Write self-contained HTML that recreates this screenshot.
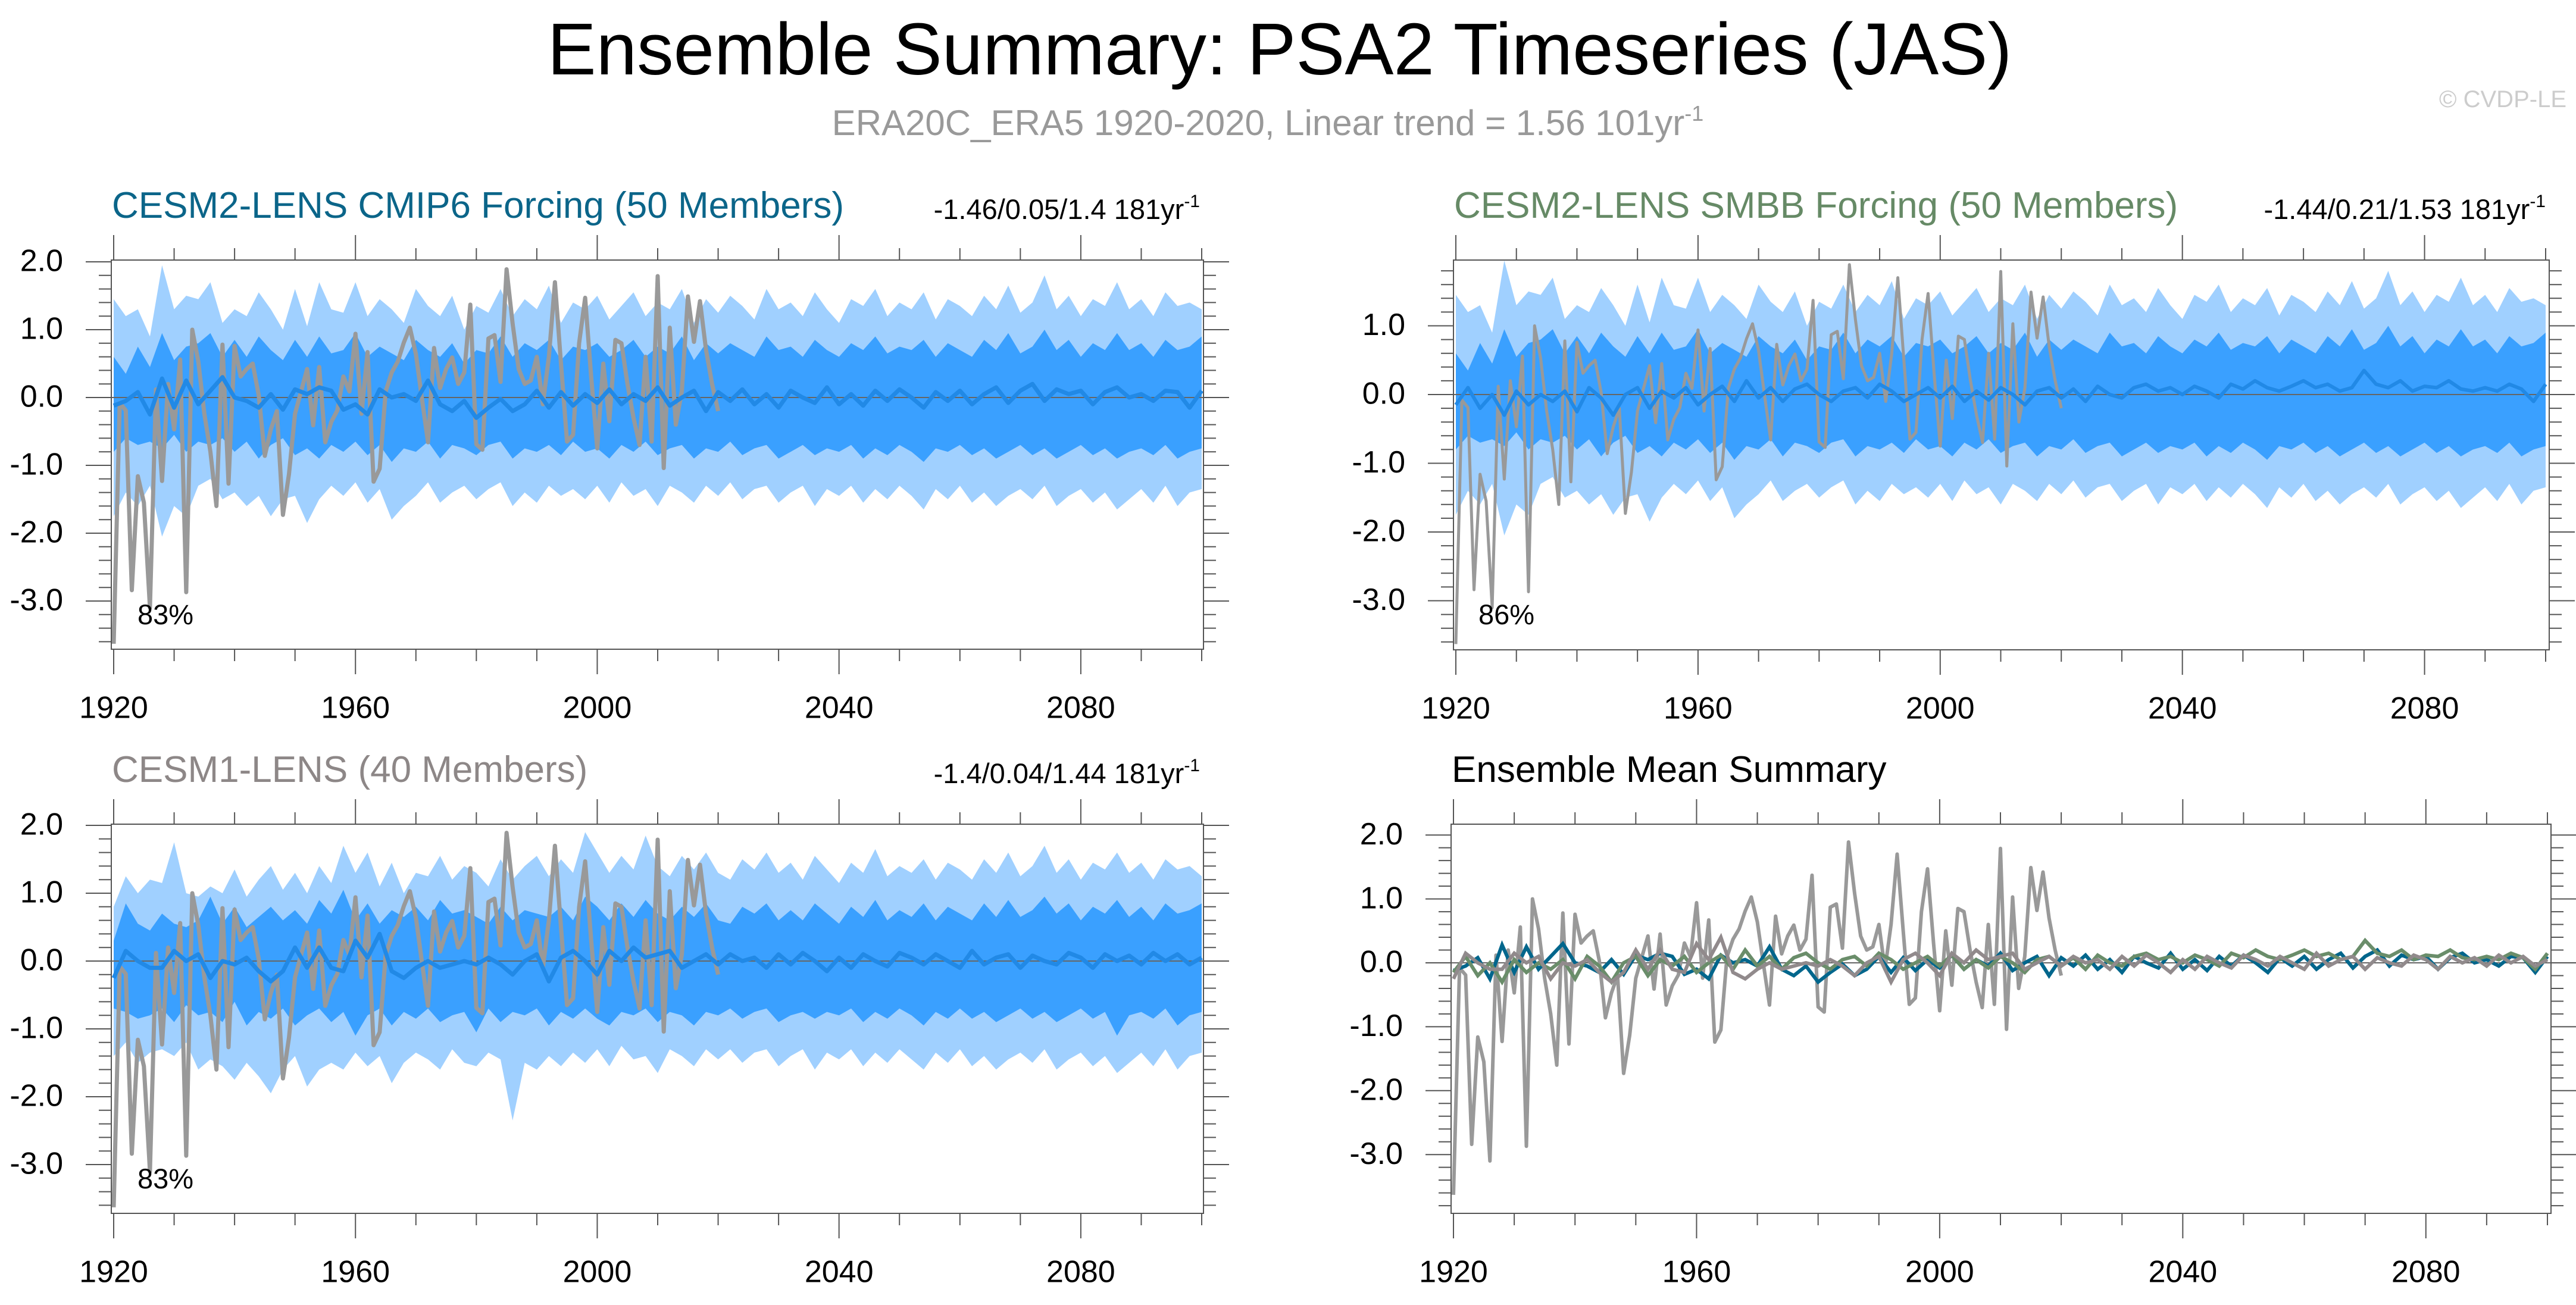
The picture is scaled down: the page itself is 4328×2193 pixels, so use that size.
<!DOCTYPE html>
<html><head><meta charset="utf-8"><style>
html,body{margin:0;padding:0;background:#fff;}
svg{display:block;font-family:"Liberation Sans",Arial,sans-serif;}
</style></head><body>
<svg id="chart" width="4328" height="2193" viewBox="0 0 4328 2193" xmlns="http://www.w3.org/2000/svg">
<rect width="4328" height="2193" fill="#fff"/>
<text x="2150" y="125" font-size="123" text-anchor="middle" fill="#000">Ensemble Summary: PSA2 Timeseries (JAS)</text>
<text x="2130" y="227" font-size="60" text-anchor="middle" fill="#999">ERA20C_ERA5 1920-2020, Linear trend = 1.56 101yr<tspan dy="-24" font-size="36">-1</tspan></text>
<text x="4312" y="180" font-size="40" text-anchor="end" fill="#ccc">© CVDP-LE</text>
<g id="panels"></g>
</svg>
<script>
// ---- data ----
const obsStartYear = 1920;
const obsValues = [-3.63,-0.08,-0.19,-2.84,-1.16,-1.55,-3.1,0.12,-1.23,0.2,
-0.47,0.56,-2.87,1.0,0.53,-0.24,-0.8,-1.6,0.78,-1.27,
0.76,0.31,0.42,0.5,0.03,-0.86,-0.47,-0.2,-1.73,-1.13,
-0.24,0.09,0.42,-0.41,0.45,-0.66,-0.36,-0.19,0.31,0.09,
0.94,-0.24,0.67,-1.24,-1.05,0.09,0.37,0.53,0.81,1.03,
0.64,-0.02,-0.66,0.73,0.14,0.42,0.59,0.2,0.37,1.37,
-0.69,-0.77,0.87,0.92,0.23,1.89,1.09,0.42,0.2,0.25,
0.6,-0.1,0.6,1.7,0.5,-0.65,-0.55,0.8,1.47,0.3,
-0.75,0.5,-0.35,0.85,0.8,0.2,-0.3,-0.7,0.6,-0.65,
1.79,-1.04,1.03,-0.4,0.1,1.49,0.82,1.42,0.7,0.2,-0.2];
const bandStartYear = 1920, bandStep = 2;
const p1LightHi = [1.45,1.2,1.3,0.9,1.95,1.3,1.5,1.45,1.7,1.1,1.3,1.2,1.55,1.3,1.0,1.6,1.05,1.7,1.3,1.25,1.7,1.2,1.45,1.3,1.1,1.6,1.35,1.2,1.5,1.0,1.35,1.25,1.6,1.2,1.45,1.3,1.65,1.1,1.4,1.3,1.5,1.15,1.35,1.55,1.2,1.4,1.3,1.6,1.1,1.45,1.25,1.5,1.35,1.15,1.6,1.3,1.4,1.2,1.55,1.3,1.1,1.45,1.35,1.6,1.2,1.4,1.3,1.55,1.15,1.45,1.35,1.2,1.5,1.3,1.65,1.25,1.4,1.8,1.3,1.5,1.2,1.45,1.35,1.7,1.3,1.45,1.2,1.55,1.35,1.4,1.3];
const p1DarkHi = [0.6,0.35,0.75,0.45,0.95,0.55,0.75,0.8,0.95,0.6,0.85,0.6,0.9,0.7,0.55,0.85,0.6,0.9,0.65,0.7,0.95,0.6,0.75,0.65,0.55,0.85,0.7,0.6,0.8,0.5,0.7,0.65,0.9,0.6,0.8,0.7,0.85,0.55,0.75,0.7,0.8,0.6,0.7,0.85,0.6,0.75,0.65,0.9,0.55,0.8,0.65,0.8,0.7,0.6,0.9,0.7,0.75,0.6,0.85,0.7,0.6,0.8,0.7,0.9,0.65,0.75,0.7,0.85,0.6,0.8,0.7,0.6,0.85,0.7,0.95,0.65,0.75,1.0,0.7,0.85,0.6,0.8,0.7,0.95,0.7,0.8,0.6,0.85,0.7,0.75,0.9];
const p1DarkLo = [-0.8,-0.6,-0.7,-0.65,-0.75,-0.55,-0.8,-0.65,-0.7,-0.6,-0.8,-0.65,-0.9,-0.7,-0.6,-0.85,-0.75,-0.9,-0.7,-0.8,-0.65,-0.85,-0.7,-0.95,-0.75,-0.8,-0.65,-0.9,-0.7,-0.75,-0.85,-0.7,-0.65,-0.9,-0.75,-0.8,-0.7,-0.85,-0.65,-0.8,-0.75,-0.9,-0.7,-0.8,-0.65,-0.85,-0.75,-0.7,-0.9,-0.75,-0.8,-0.65,-0.85,-0.75,-0.7,-0.9,-0.8,-0.7,-0.85,-0.75,-0.8,-0.7,-0.9,-0.75,-0.85,-0.7,-0.8,-0.95,-0.75,-0.8,-0.7,-0.85,-0.75,-0.9,-0.8,-0.7,-0.85,-0.75,-0.9,-0.8,-0.7,-0.85,-0.75,-0.9,-0.8,-0.75,-0.85,-0.7,-0.9,-0.8,-0.75];
const p1LightLo = [-1.75,-1.4,-1.6,-1.3,-2.05,-1.6,-1.75,-1.3,-1.2,-1.5,-1.4,-1.6,-1.45,-1.75,-1.5,-1.45,-1.85,-1.5,-1.3,-1.45,-1.25,-1.55,-1.35,-1.8,-1.6,-1.45,-1.25,-1.55,-1.4,-1.3,-1.5,-1.35,-1.25,-1.6,-1.4,-1.55,-1.3,-1.45,-1.35,-1.5,-1.3,-1.55,-1.25,-1.45,-1.35,-1.6,-1.3,-1.4,-1.55,-1.3,-1.45,-1.25,-1.5,-1.35,-1.3,-1.55,-1.4,-1.3,-1.6,-1.35,-1.45,-1.3,-1.55,-1.35,-1.5,-1.3,-1.45,-1.65,-1.35,-1.5,-1.3,-1.55,-1.4,-1.6,-1.45,-1.35,-1.5,-1.3,-1.6,-1.45,-1.35,-1.55,-1.4,-1.65,-1.5,-1.35,-1.55,-1.3,-1.6,-1.4,-1.35];
const p1Mean = [-0.12,-0.05,0.08,-0.25,0.28,-0.15,0.25,-0.1,0.1,0.3,0.0,-0.05,-0.15,0.05,-0.18,0.12,0.05,0.15,0.1,-0.18,-0.1,-0.25,0.12,0.0,0.05,-0.05,0.25,-0.1,-0.2,-0.05,-0.3,-0.15,-0.02,-0.2,-0.1,0.1,-0.15,0.08,-0.12,0.05,-0.08,0.12,-0.1,0.05,-0.05,0.15,-0.12,0.0,0.1,-0.2,0.08,-0.05,0.12,-0.1,0.05,-0.15,0.1,0.0,-0.08,0.15,-0.1,0.05,-0.12,0.1,-0.05,0.12,0.0,-0.15,0.08,-0.05,0.1,-0.1,0.05,0.15,-0.08,0.1,0.2,-0.05,0.12,0.05,0.1,-0.1,0.08,0.15,0.0,0.05,-0.05,0.1,0.08,-0.15,0.1];
const p2Mean = [-0.15,0.1,-0.2,0.0,-0.3,0.05,-0.15,0.0,-0.1,0.05,-0.25,0.1,-0.05,-0.3,0.0,0.1,-0.2,0.05,-0.05,0.1,-0.15,0.0,0.12,-0.1,0.2,-0.05,0.1,-0.1,0.08,0.15,0.0,-0.1,0.05,0.1,-0.05,0.15,0.05,-0.1,0.0,0.1,-0.05,0.12,-0.1,0.05,-0.08,0.1,0.0,-0.15,0.05,0.1,-0.05,0.08,-0.1,0.12,0.0,-0.05,0.1,0.15,0.05,0.1,0.0,0.12,0.05,-0.05,0.15,0.08,0.2,0.1,0.05,0.12,0.2,0.1,0.15,0.05,0.1,0.35,0.15,0.1,0.2,0.05,0.12,0.1,0.2,0.08,0.05,0.1,0.05,0.15,0.08,-0.1,0.15];
const p3LightHi = [0.8,1.25,1.0,1.2,1.15,1.75,1.0,0.95,1.1,1.0,1.35,0.95,1.2,1.4,1.05,1.3,1.0,1.4,1.15,1.7,1.3,1.6,1.1,1.45,1.0,1.3,1.25,1.55,1.2,1.4,1.3,1.1,1.5,1.2,1.4,1.55,1.25,1.5,1.3,1.9,1.6,1.3,1.55,1.35,1.85,1.4,1.25,1.55,1.35,1.6,1.3,1.2,1.5,1.35,1.6,1.3,1.45,1.2,1.55,1.35,1.15,1.45,1.3,1.65,1.25,1.4,1.3,1.5,1.2,1.45,1.35,1.2,1.5,1.3,1.6,1.25,1.4,1.7,1.3,1.5,1.2,1.45,1.35,1.6,1.3,1.45,1.2,1.5,1.35,1.4,1.25];
const p3DarkHi = [0.3,0.85,0.55,0.45,0.7,0.55,0.5,0.6,0.95,0.55,0.8,0.5,0.65,0.8,0.6,0.75,0.55,0.9,0.7,1.05,0.6,0.85,0.55,0.75,0.65,0.8,0.6,0.9,0.7,0.75,0.65,0.55,0.8,0.6,0.75,0.7,0.65,0.8,0.6,0.95,0.8,0.6,0.85,0.65,0.9,0.7,0.6,0.8,0.65,0.85,0.6,0.55,0.8,0.7,0.85,0.6,0.75,0.6,0.85,0.7,0.55,0.8,0.65,0.9,0.6,0.75,0.65,0.85,0.6,0.8,0.7,0.6,0.85,0.65,0.9,0.65,0.75,0.95,0.7,0.85,0.6,0.8,0.7,0.9,0.65,0.8,0.6,0.85,0.7,0.75,0.85];
const p3DarkLo = [-0.7,-0.75,-0.85,-0.8,-0.7,-0.9,-0.65,-0.8,-0.75,-0.9,-0.6,-0.95,-0.75,-0.85,-0.7,-0.95,-0.8,-0.7,-0.9,-0.75,-1.1,-0.8,-0.7,-0.95,-0.75,-0.85,-0.7,-0.9,-0.8,-0.75,-1.05,-0.7,-0.9,-0.75,-0.8,-0.7,-0.95,-0.75,-0.85,-0.7,-0.85,-0.95,-0.75,-0.8,-0.7,-0.9,-0.75,-0.8,-0.95,-0.75,-0.8,-0.7,-0.85,-0.75,-0.7,-0.9,-0.8,-0.75,-0.85,-0.75,-0.8,-0.7,-0.9,-0.75,-0.85,-0.7,-0.8,-0.95,-0.75,-0.85,-0.7,-0.85,-0.75,-0.9,-0.8,-0.7,-0.85,-0.75,-0.9,-0.8,-0.7,-0.85,-0.75,-1.1,-0.8,-0.75,-0.85,-0.7,-0.95,-0.8,-0.75];
const p3LightLo = [-1.4,-1.2,-1.5,-1.35,-1.3,-1.4,-1.2,-1.6,-1.45,-1.55,-1.75,-1.5,-1.7,-1.95,-1.6,-1.4,-1.85,-1.6,-1.5,-1.6,-1.35,-1.55,-1.4,-1.8,-1.5,-1.35,-1.45,-1.6,-1.3,-1.5,-1.55,-1.35,-1.45,-2.35,-1.5,-1.6,-1.4,-1.55,-1.35,-1.5,-1.3,-1.55,-1.25,-1.45,-1.4,-1.65,-1.3,-1.4,-1.55,-1.3,-1.45,-1.3,-1.5,-1.35,-1.3,-1.55,-1.4,-1.3,-1.6,-1.35,-1.45,-1.3,-1.55,-1.35,-1.5,-1.3,-1.45,-1.6,-1.35,-1.5,-1.3,-1.55,-1.4,-1.6,-1.45,-1.35,-1.5,-1.3,-1.6,-1.45,-1.35,-1.55,-1.4,-1.65,-1.5,-1.35,-1.55,-1.3,-1.6,-1.4,-1.35];
const p3Mean = [-0.25,0.15,0.0,-0.1,-0.1,0.15,0.0,0.1,-0.25,0.0,-0.05,0.05,-0.15,-0.3,-0.15,0.2,-0.1,0.2,-0.1,-0.15,0.3,0.05,0.4,-0.15,-0.25,-0.1,0.0,-0.1,-0.05,0.0,-0.05,0.05,-0.05,-0.2,0.0,0.1,-0.3,0.05,0.15,0.0,-0.2,0.15,0.0,0.2,0.05,0.1,0.15,-0.1,0.0,0.1,-0.05,0.1,0.0,0.05,-0.1,0.1,-0.05,0.12,0.0,-0.15,0.05,-0.1,0.1,0.0,-0.08,0.12,0.05,-0.05,0.1,0.0,-0.1,0.15,-0.05,0.05,0.1,-0.1,0.08,0.0,-0.05,0.12,0.05,-0.1,0.1,0.0,0.08,-0.05,0.12,0.0,0.1,-0.05,0.05];
const xTickLabels = ["1920","1960","2000","2040","2080"];
const yTickLabels = ["2.0","1.0","0.0","-1.0","-2.0","-3.0"];

// ---- drawing ----
const NS = "http://www.w3.org/2000/svg";
const root = document.getElementById("panels");
function mk(tag, attrs, parent){
  const e = document.createElementNS(NS, tag);
  for (const k in attrs) e.setAttribute(k, attrs[k]);
  (parent||root).appendChild(e);
  return e;
}
const panels = [
  {id:"p1", bx0:187, bx1:2022, xa:191, xb:2019, top:437, bot:1091, zero:668, unit:114, yMin:-3.7, yMax:2.03,
   title:"CESM2-LENS CMIP6 Forcing (50 Members)", tcolor:"#0b6589", stats:"-1.46/0.05/1.4 181yr", pct:"83%", pctX:231,
   bands:[p1LightHi,p1DarkHi,p1DarkLo,p1LightLo], mean:p1Mean, obsW:7, meanW:7},
  {id:"p2", bx0:2442, bx1:4283, xa:2446, xb:4277, top:437, bot:1092, zero:663, unit:115.5, yMin:-3.72, yMax:1.96,
   title:"CESM2-LENS SMBB Forcing (50 Members)", tcolor:"#668a66", stats:"-1.44/0.21/1.53 181yr", pct:"86%", pctX:2484,
   bands:[p1LightHi,p1DarkHi,p1DarkLo,p1LightLo], mean:p2Mean, obsW:5, meanW:6},
  {id:"p3", bx0:187, bx1:2022, xa:191, xb:2019, top:1385, bot:2039, zero:1615, unit:114, yMin:-3.7, yMax:2.03,
   title:"CESM1-LENS (40 Members)", tcolor:"#8d8787", stats:"-1.4/0.04/1.44 181yr", pct:"83%", pctX:231,
   bands:[p3LightHi,p3DarkHi,p3DarkLo,p3LightLo], mean:p3Mean, obsW:7, meanW:7},
  {id:"p4", bx0:2438, bx1:4286, xa:2442, xb:4280, top:1385, bot:2039, zero:1618, unit:107.4, yMin:-3.92, yMax:2.17,
   title:"Ensemble Mean Summary", tcolor:"#000", summary:true}
];
panels.forEach((p, pi) => {
  const g = mk("g", {});
  
  
  const X = yr => p.xa + (yr - 1920) * (p.xb - p.xa) / 180;
  const Y = v => p.zero - v * p.unit;
  const clip = mk("clipPath", {id:"clip-"+p.id}, g);
  mk("rect", {x:p.bx0, y:p.top, width:p.bx1-p.bx0, height:p.bot-p.top}, clip);
  const plot = mk("g", {"clip-path":"url(#clip-"+p.id+")"}, g);
  
  
  const bandX = i => X(bandStartYear + i*bandStep);
  if (!p.summary) {
    const [lh, dh, dl, ll] = p.bands;
    const poly = (hi, lo) => hi.map((v,i)=>bandX(i)+","+Y(v)).concat(lo.map((v,i)=>bandX(i)+","+Y(v)).reverse()).join(" ");
    const b1 = mk("polygon", {points:poly(lh, ll), fill:"#a0d0ff"}, plot);
    
    
    const b2 = mk("polygon", {points:poly(dh, dl), fill:"#3aa0ff"}, plot);
    
    
  }
  const z = mk("line", {x1:p.bx0, x2:p.bx1, y1:Y(0), y2:Y(0), stroke:"#666", "stroke-width":2}, plot);
  
  
  const obsPts = obsValues.map((v,i)=>X(obsStartYear+i)+","+Y(v)).join(" ");
  const linePts = arr => arr.map((v,i)=>bandX(i)+","+Y(v)).join(" ");
  if (!p.summary) {
    const o = mk("polyline", {points:obsPts, fill:"none", stroke:"#999", "stroke-width":p.obsW, "stroke-linejoin":"round"}, plot);
    
    
    const m = mk("polyline", {points:linePts(p.mean), fill:"none", stroke:"#2189e6", "stroke-width":p.meanW, "stroke-linejoin":"round"}, plot);
    
    
  } else {
    const o = mk("polyline", {points:obsPts, fill:"none", stroke:"#999", "stroke-width":6, "stroke-linejoin":"round"}, plot);
    
    
    const s1 = mk("polyline", {points:linePts(p1Mean), fill:"none", stroke:"#00668c", "stroke-width":6}, plot);
    
    
    const s2 = mk("polyline", {points:linePts(p2Mean), fill:"none", stroke:"#6a8d6a", "stroke-width":6}, plot);
    
    
    const s3 = mk("polyline", {points:linePts(p3Mean), fill:"none", stroke:"#918a8c", "stroke-width":6}, plot);
    
    
  }
  const fr = mk("rect", {x:p.bx0, y:p.top, width:p.bx1-p.bx0, height:p.bot-p.top, fill:"none", stroke:"#555", "stroke-width":2}, g);
  
  
  for (let yr = 1920; yr <= 2100; yr += 10) {
    const major = (yr - 1920) % 40 === 0 && yr < 2100;
    const L = major ? 42 : 20, x = X(yr);
    mk("line", {x1:x, x2:x, y1:p.top, y2:p.top-L, stroke:"#555", "stroke-width":2}, g);
    mk("line", {x1:x, x2:x, y1:p.bot, y2:p.bot+L, stroke:"#555", "stroke-width":2}, g);
  }
  xTickLabels.forEach(lbl => {
    const t = mk("text", {x:X(+lbl), y:p.bot+102, "font-size":52, "text-anchor":"middle", "dominant-baseline":"middle", fill:"#000"}, g);
    
    
    t.textContent = lbl;
  });
  for (let k = -20; k <= 12; k++) {
    const v = k/5;
    if (v < p.yMin || v > p.yMax) continue;
    const major = k % 5 === 0, L = major ? 43 : 21, y = Y(v);
    mk("line", {x1:p.bx0, x2:p.bx0-L, y1:y, y2:y, stroke:"#555", "stroke-width":2}, g);
    mk("line", {x1:p.bx1, x2:p.bx1+L, y1:y, y2:y, stroke:"#555", "stroke-width":2}, g);
  }
  yTickLabels.forEach(lbl => {
    const v = parseFloat(lbl);
    if (v < p.yMin || v > p.yMax) return;
    const t = mk("text", {x:p.bx0-81, y:Y(v)+2, "font-size":52, "text-anchor":"end", "dominant-baseline":"middle", fill:"#000"}, g);
    
    
    t.textContent = lbl;
  });
  const tt = mk("text", {x:p.bx0+1, y:p.top-71, "font-size":62, fill:p.tcolor}, g);
  
  
  tt.textContent = p.title;
  if (p.stats) {
    const st = mk("text", {x:p.bx1-6, y:p.top-69, "font-size":47, "text-anchor":"end", fill:"#000"}, g);
    
    
    st.appendChild(document.createTextNode(p.stats));
    const sp = mk("tspan", {dy:-20, "font-size":30}, st);
    sp.textContent = "-1";
    const pc = mk("text", {x:p.pctX, y:p.top+612, "font-size":47, fill:"#000"}, g);
    
    
    pc.textContent = p.pct;
  }
});
</script>
</body></html>
